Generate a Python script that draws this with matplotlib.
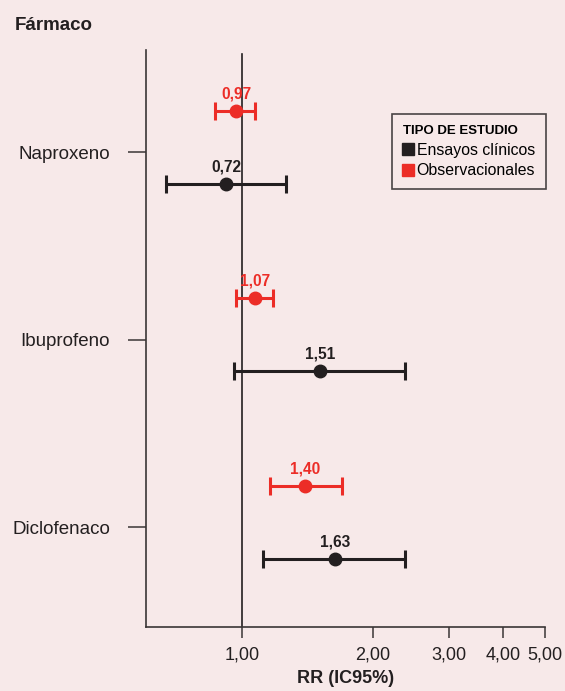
import matplotlib.pyplot as plt
import matplotlib.ticker as mticker
import numpy as np
from matplotlib.lines import Line2D

plt.rcParams["font.family"] = ["Liberation Sans", "DejaVu Sans"]

BG = "#f7e9e9"
BLACK = "#231f20"
RED = "#ec2d27"

farmacos = ["Naproxeno", "Ibuprofeno", "Diclofenaco"]

# Ensayos clínicos (posición tal como aparece en la figura)
ec_rr = [0.92, 1.51, 1.635]
ec_lo = [0.667, 0.96, 1.12]
ec_hi = [1.26, 2.38, 2.38]
ec_lab = ["0,72", "1,51", "1,63"]

# Observacionales
obs_rr = [0.97, 1.07, 1.40]
obs_lo = [0.867, 0.966, 1.16]
obs_hi = [1.07, 1.18, 1.70]
obs_lab = ["0,97", "1,07", "1,40"]

xticks = [1, 2, 3, 4, 5]
xticklabels = ["1,00", "2,00", "3,00", "4,00", "5,00"]

fig = plt.figure(figsize=(5.65, 6.91), dpi=100, facecolor=BG)
ax = fig.add_axes([0.2584, 0.0926, 0.7062, 0.835])
ax.set_facecolor(BG)

y = np.arange(len(farmacos))


def draw_series(rr, lo, hi, labels, offset, color):
    rr = np.array(rr)
    err = [rr - np.array(lo), np.array(hi) - rr]
    ax.errorbar(rr, y + offset, xerr=err, fmt="o", color=color, ms=9,
                elinewidth=2.2, capsize=6.5, capthick=2.2, zorder=3)
    for xi, yi, lab in zip(rr, y + offset, labels):
        ax.annotate(lab, (xi, yi), xytext=(0, 7), textcoords="offset points",
                    ha="center", va="bottom", fontsize=11.2, fontweight="bold",
                    color=color)


draw_series(obs_rr, obs_lo, obs_hi, obs_lab, -0.22, RED)
draw_series(ec_rr, ec_lo, ec_hi, ec_lab, 0.17, BLACK)

ax.axvline(1, ymax=0.993, color=BLACK, lw=1.2, zorder=1)

ax.set_xscale("log")
ax.set_xlim(0.6, 5.0)
ax.set_ylim(2.533, -0.544)
ax.xaxis.set_major_locator(mticker.FixedLocator(xticks))
ax.xaxis.set_minor_locator(mticker.NullLocator())
ax.set_xticklabels(xticklabels)
ax.set_yticks(y)
ax.set_yticklabels(farmacos)

ax.tick_params(axis="x", length=8, width=1.1, color="#3a3536", labelsize=13,
               labelcolor=BLACK, pad=6)
ax.tick_params(axis="y", length=13, width=1.1, color="#3a3536", labelsize=13.5,
               labelcolor=BLACK, pad=13)

for s in ["top", "right"]:
    ax.spines[s].set_visible(False)
for s in ["left", "bottom"]:
    ax.spines[s].set_color("#3a3536")
    ax.spines[s].set_linewidth(1.2)

ax.set_xlabel("RR (IC95%)", fontsize=13, fontweight="bold", color=BLACK,
              labelpad=5)

fig.text(15 / 565, 1 - 25 / 691, "Fármaco", fontsize=13.5, fontweight="bold",
         color=BLACK, ha="left", va="center")

handles = [
    Line2D([], [], marker="s", ls="none", color=BLACK, ms=8.5,
           label="Ensayos clínicos"),
    Line2D([], [], marker="s", ls="none", color=RED, ms=8.5,
           label="Observacionales"),
]
leg = ax.legend(handles=handles, title="TIPO DE ESTUDIO", loc="upper left",
                bbox_to_anchor=(0.6165, 0.889), borderaxespad=0,
                fontsize=11.4, frameon=True,
                fancybox=False, framealpha=1, facecolor=BG,
                edgecolor="#4a4445", handlelength=0.6, handletextpad=0.25,
                labelspacing=0.35, borderpad=0.7, alignment="left",
                title_fontproperties={"weight": "bold", "size": 9.5})
leg.get_frame().set_linewidth(1.2)

fig.savefig("out.png", dpi=100, facecolor=BG)
